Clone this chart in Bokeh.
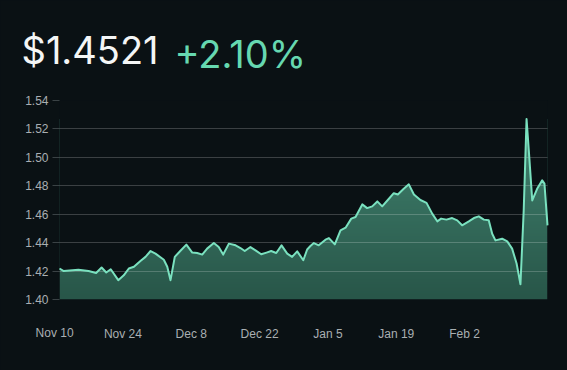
import numpy as np
import pandas as pd
from bokeh.plotting import figure
from bokeh.models import (Range1d, FixedTicker, Label, ColumnDataSource,
                          GlobalInlineStyleSheet, PrintfTickFormatter)
from bokeh.embed import file_html
from bokeh.resources import INLINE

# ---------------- data ----------------
dates = [
    "2024-11-11 00:00", "2024-11-11 21:00", "2024-11-14 21:00", "2024-11-16 23:00",
    "2024-11-18 12:00", "2024-11-19 15:00", "2024-11-20 14:00", "2024-11-21 12:00",
    "2024-11-23 01:00", "2024-11-24 04:00", "2024-11-25 05:00", "2024-11-26 06:00",
    "2024-11-27 14:00", "2024-11-28 15:00", "2024-11-29 16:00", "2024-11-30 16:00",
    "2024-12-02 09:00", "2024-12-03 02:00", "2024-12-03 18:00", "2024-12-04 15:00",
    "2024-12-05 19:00", "2024-12-07 00:00", "2024-12-08 05:00", "2024-12-09 05:00",
    "2024-12-10 06:00", "2024-12-11 06:00", "2024-12-12 15:00", "2024-12-13 15:00",
    "2024-12-14 13:00", "2024-12-15 17:00", "2024-12-17 02:00", "2024-12-18 02:00",
    "2024-12-18 23:00", "2024-12-20 03:00", "2024-12-21 04:00", "2024-12-22 08:00",
    "2024-12-23 10:00", "2024-12-24 09:00", "2024-12-25 10:00", "2024-12-26 12:00",
    "2024-12-27 16:00", "2024-12-28 16:00", "2024-12-29 17:00", "2024-12-30 23:00",
    "2024-12-31 18:00", "2025-01-01 10:00", "2025-01-02 03:00", "2025-01-03 03:00",
    "2025-01-04 12:00", "2025-01-05 05:00", "2025-01-06 10:00", "2025-01-07 14:00",
    "2025-01-08 15:00", "2025-01-09 19:00", "2025-01-10 16:00", "2025-01-12 01:00",
    "2025-01-13 01:00", "2025-01-14 02:00", "2025-01-15 03:00", "2025-01-16 03:00",
    "2025-01-17 12:00", "2025-01-18 12:00", "2025-01-19 08:00", "2025-01-20 13:00",
    "2025-01-21 14:00", "2025-01-22 15:00", "2025-01-23 23:00", "2025-01-25 05:00",
    "2025-01-26 09:00", "2025-01-27 10:00", "2025-01-28 05:00", "2025-01-29 07:00",
    "2025-01-30 11:00", "2025-01-31 12:00", "2025-02-01 12:00", "2025-02-02 21:00",
    "2025-02-03 22:00", "2025-02-04 22:00", "2025-02-05 23:00", "2025-02-06 23:00",
    "2025-02-07 16:00", "2025-02-08 08:00", "2025-02-09 17:00", "2025-02-10 18:00",
    "2025-02-11 18:00", "2025-02-12 16:00", "2025-02-13 11:00", "2025-02-14 03:00",
    "2025-02-14 17:00", "2025-02-15 04:00", "2025-02-15 21:00", "2025-02-16 21:00",
    "2025-02-17 22:00", "2025-02-18 09:00", "2025-02-19 00:00",
]
prices = [
    1.4218, 1.4200, 1.4210, 1.4200, 1.4187, 1.4225, 1.4190, 1.4213,
    1.4136, 1.4170, 1.4218, 1.4230, 1.4271, 1.4300, 1.4341, 1.4323,
    1.4280, 1.4230, 1.4136, 1.4300, 1.4343, 1.4386, 1.4330, 1.4327,
    1.4316, 1.4358, 1.4397, 1.4369, 1.4316, 1.4393, 1.4381, 1.4362,
    1.4341, 1.4369, 1.4346, 1.4318, 1.4330, 1.4341, 1.4327, 1.4381,
    1.4323, 1.4300, 1.4339, 1.4276, 1.4352, 1.4376, 1.4397, 1.4381,
    1.4421, 1.4432, 1.4388, 1.4487, 1.4505, 1.4569, 1.4580, 1.4669,
    1.4643, 1.4655, 1.4690, 1.4655, 1.4709, 1.4748, 1.4739, 1.4779,
    1.4810, 1.4739, 1.4700, 1.4680, 1.4604, 1.4550, 1.4569, 1.4562,
    1.4573, 1.4557, 1.4522, 1.4550, 1.4573, 1.4585, 1.4562, 1.4557,
    1.4463, 1.4416, 1.4428, 1.4409, 1.4358, 1.4253, 1.4107, 1.4627,
    1.5270, 1.5049, 1.4697, 1.4779, 1.4838, 1.4815, 1.4521,
]
tick_dates = ["2024-11-10", "2024-11-24", "2024-12-08", "2024-12-22",
              "2025-01-05", "2025-01-19", "2025-02-02"]
tick_labels = ["Nov 10", "Nov 24", "Dec 8", "Dec 22", "Jan 5", "Jan 19", "Feb 2"]
y_ticks = [1.40, 1.42, 1.44, 1.46, 1.48, 1.50, 1.52, 1.54]
price_text = "$1.4521"
change_text = "+2.10%"

# ---------------- styling ----------------
BG = "#0a1114"
LINE = "#7ae1bf"
GREEN = "#66d8b0"
LABEL = "#a9afb2"
AXIS_FONT = "Liberation Sans"


def to_ms(s):
    return (pd.Timestamp(s) - pd.Timestamp("1970-01-01")) / pd.Timedelta(milliseconds=1)


x_ms = np.array([to_ms(d) for d in dates])
y = np.array(prices)
tick_ms = [to_ms(d) for d in tick_dates]

src = ColumnDataSource(dict(x=x_ms, y=y, top=np.full(len(y), y_ticks[-1])))

p = figure(width=567, height=370, x_axis_type="datetime",
           output_backend="svg", toolbar_location=None,
           x_range=Range1d(x_ms[0], x_ms[-1]),
           y_range=Range1d(y_ticks[0], y_ticks[-1]),
           min_border_left=59, min_border_right=20,
           min_border_top=100, min_border_bottom=71)
p.background_fill_color = BG
p.border_fill_color = BG
p.outline_line_color = None
p.stylesheets = [GlobalInlineStyleSheet(css=f"html, body {{ background-color: {BG}; }}")]

# vertical gradient image under the line, masked above the line
n = 120
top_rgb = np.array([66, 132, 112])
bot_rgb = np.array([40, 86, 73])
img = np.zeros((n, 1), dtype=np.uint32)
view = img.view(dtype=np.uint8).reshape((n, 1, 4))
for i in range(n):
    t = i / (n - 1)
    c = bot_rgb + (top_rgb - bot_rgb) * t
    view[i, 0, 0:3] = c.astype(np.uint8)
    view[i, 0, 3] = 255
p.image_rgba(image=[img], x=x_ms[0], y=y_ticks[0],
             dw=x_ms[-1] - x_ms[0], dh=y.max() - y_ticks[0])
p.varea(x="x", y1="y", y2="top", source=src, fill_color=BG)

r = p.line(x="x", y="y", source=src, line_color=LINE, line_width=2,
           line_join="round")
r.level = "overlay"

# grid
p.xgrid.visible = False
p.ygrid.ticker = FixedTicker(ticks=y_ticks)
p.ygrid.grid_line_color = "#ffffff"
p.ygrid.grid_line_alpha = 0.2
p.ygrid.level = "guide"

# y axis
p.yaxis.ticker = FixedTicker(ticks=y_ticks)
p.yaxis.formatter = PrintfTickFormatter(format="%.2f")
p.yaxis.axis_line_color = None
p.yaxis.major_tick_out = 7
p.yaxis.major_tick_in = 0
p.yaxis.major_tick_line_color = "#3a4245"
p.yaxis.minor_tick_line_color = None
p.yaxis.major_label_standoff = 4
p.yaxis.major_label_text_color = LABEL
p.yaxis.major_label_text_font = AXIS_FONT
p.yaxis.major_label_text_font_size = "12px"

# x axis (ticks inside the data range)
p.xaxis.ticker = FixedTicker(ticks=tick_ms[1:])
p.xaxis.major_label_overrides = {t: l for t, l in zip(tick_ms, tick_labels)}
p.xaxis.axis_line_color = None
p.xaxis.major_tick_line_color = None
p.xaxis.minor_tick_line_color = None
p.xaxis.major_label_standoff = 21
p.xaxis.major_label_text_color = LABEL
p.xaxis.major_label_text_font = AXIS_FONT
p.xaxis.major_label_text_font_size = "12px"

# first date label lies just left of the data range: place it through the x scale
p.add_layout(Label(x=tick_ms[0], y=25, x_units="data", y_units="screen",
                   text=tick_labels[0], text_color=LABEL, text_font=AXIS_FONT,
                   text_font_size="12px", text_align="center",
                   text_baseline="alphabetic"), "below")

# header (placed in side panels so it is not clipped to the frame)
p.add_layout(Label(x=-38, y=51, x_units="screen", y_units="screen",
                   text=price_text, text_color="#f4f6f6",
                   text_font="Inter", text_font_size="38px",
                   text_baseline="alphabetic"), "above")
p.add_layout(Label(x=115, y=1, x_units="screen", y_units="screen",
                   text=change_text, text_color=GREEN,
                   text_font="Inter", text_font_size="38px",
                   text_baseline="alphabetic"), "above")

open("out.html", "w").write(file_html(p, INLINE))
